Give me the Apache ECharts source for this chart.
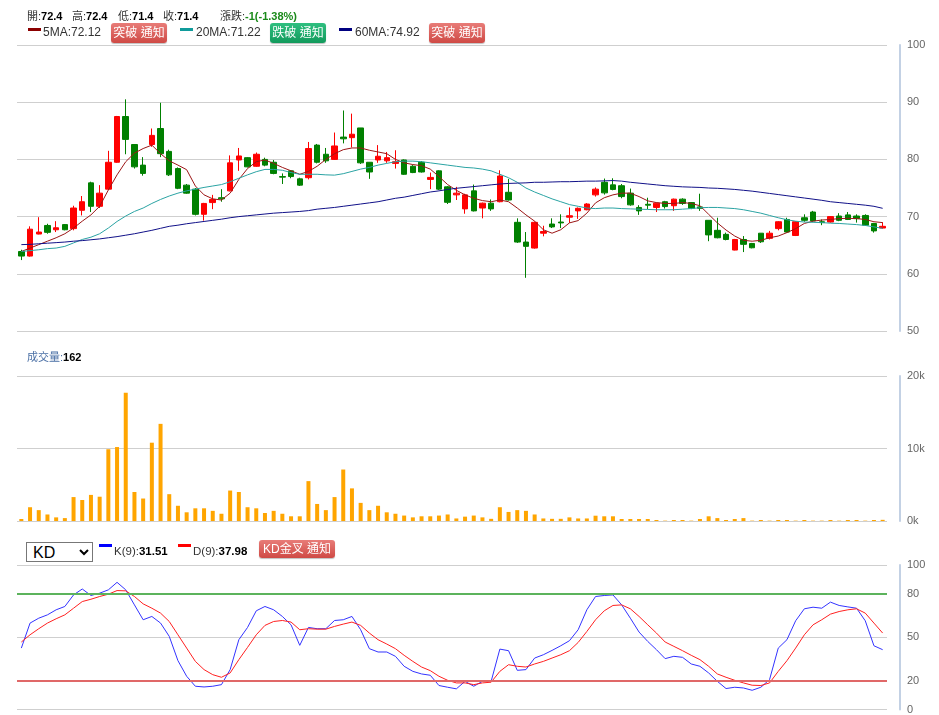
<!DOCTYPE html>
<html>
<head>
<meta charset="utf-8">
<script src="https://cdn.jsdelivr.net/npm/echarts@6/dist/echarts.min.js"></script>
<style>
  body { margin: 0; background: #fff; font-family: Arial, "Liberation Sans", "Noto Sans CJK TC", sans-serif; }
  #wrap { position: relative; width: 939px; height: 715px; }
  #chart { position: absolute; left: 0; top: 0; width: 939px; height: 715px; }
  .t { position: absolute; white-space: nowrap; color: #333; font-size: 11px; line-height: 14px; }
  .t b { color: #000; }
  .sw { position: absolute; width: 13px; height: 3px; }
  .btn { position: absolute; height: 20px; line-height: 20px; border-radius: 3px; color: #fff;
         font-size: 12px; text-align: center; box-shadow: 0 1px 1px rgba(0,0,0,.25); }
  .red { background: linear-gradient(#e87c78, #cf4a45); }
  .green { background: linear-gradient(#2fbf80, #129a5c); }
  select { position: absolute; left: 26px; top: 542px; width: 67px; height: 20px; font-size: 16px;
           border: 1px solid #777; background: #fff; padding: 0 2px; font-family: Arial, sans-serif; }
</style>
</head>
<body>
<div id="wrap">
  <div id="chart"></div>

  <div class="t" style="left:27px;top:9px">開:<b>72.4</b></div>
  <div class="t" style="left:72px;top:9px">高:<b>72.4</b></div>
  <div class="t" style="left:118px;top:9px">低:<b>71.4</b></div>
  <div class="t" style="left:163px;top:9px">收:<b>71.4</b></div>
  <div class="t" style="left:220px;top:9px">漲跌:<b style="color:#1a8a1a">-1(-1.38%)</b></div>

  <div class="sw" style="left:28px;top:28px;background:#8b0000"></div>
  <div class="t" style="left:43px;top:25px;font-size:12px">5MA:72.12</div>
  <div class="btn red" style="left:111px;top:23px;width:56px">突破 通知</div>
  <div class="sw" style="left:180px;top:28px;background:#109b9b"></div>
  <div class="t" style="left:196px;top:25px;font-size:12px">20MA:71.22</div>
  <div class="btn green" style="left:270px;top:23px;width:56px">跌破 通知</div>
  <div class="sw" style="left:339px;top:28px;background:#000080"></div>
  <div class="t" style="left:355px;top:25px;font-size:12px">60MA:74.92</div>
  <div class="btn red" style="left:429px;top:23px;width:56px">突破 通知</div>

  <div class="t" style="left:27px;top:350px"><span style="color:#4a6fa5">成交量:</span><b>162</b></div>

  <select><option>KD</option></select>
  <div class="sw" style="left:99px;top:544px;background:#0000ff"></div>
  <div class="t" style="left:114px;top:544px;font-size:11.5px">K(9):<b>31.51</b></div>
  <div class="sw" style="left:178px;top:544px;background:#ff0000"></div>
  <div class="t" style="left:193px;top:544px;font-size:11.5px">D(9):<b>37.98</b></div>
  <div class="btn red" style="left:259px;top:540px;width:76px;height:18px;line-height:18px">KD金叉 通知</div>
</div>

<script>
// daily prices
const open = [63.9,63.1,66.95,68.45,67.7,68.6,67.9,71.1,75.9,71.8, 74.8,79.5,87.5,82.6,79.0,82.6,85.4,81.4,78.4,75.5,
  74.8,70.4,72.45,73.3,74.5,79.9,80.3,78.8,80.0,79.5, 77.0,78.0,76.6,76.8,82.5,80.9,80.0,83.9,83.8,85.5,
  79.5,79.9,79.75,79.3,79.9,78.8,79.5,76.5,78.0,75.2, 73.8,71.35,74.5,71.5,72.35,72.6,74.25,69.0,65.55,64.5,
  67.1,68.7,69.05,69.9,71.0,71.2,73.8,76.0,75.55,75.4, 74.1,71.6,72.15,71.6,72.6,71.9,73.05,72.45,71.7,69.35,
  67.6,66.9,64.15,66.0,65.3,67.1,66.2,67.9,69.5,66.7, 69.8,70.8,69.1,69.05,70.1,70.3,70.1,70.2,68.8,68.0]
const close = [63.1,67.8,67.3,67.25,68.05,67.7,71.5,72.6,71.8,74.1, 79.5,87.5,83.5,78.7,77.55,84.2,81.0,77.3,74.95,74.1,
  70.4,72.3,73.0,73.1,79.4,80.6,78.7,80.9,79.0,77.55, 76.9,77.0,75.5,81.9,79.5,79.75,82.35,83.6,84.4,79.4,
  77.8,80.55,80.3,79.6,77.4,77.7,77.8,76.85,74.8,72.5, 74.1,73.8,71.0,72.35,71.35,77.1,72.9,65.55,64.8,69.0,
  67.4,68.2,68.9,70.15,71.45,72.2,74.8,74.15,74.75,73.5, 72.05,71.0,72.0,72.35,71.75,73.05,72.3,71.45,71.45,66.8,
  66.3,66.0,66.0,65.15,64.55,65.6,67.1,69.1,67.3,69.1, 69.35,69.25,68.95,70.0,69.35,69.5,69.65,68.5,67.5,68.3]
const high = [64.2,68.3,69.9,68.75,69.2,68.7,71.9,73.6,76.1,75.5, 81.5,87.6,90.5,82.6,80.4,85.4,89.9,81.7,78.6,75.7,
  75.0,72.4,73.8,74.8,80.7,82.0,80.4,81.2,80.3,79.9, 77.55,78.1,76.8,83.05,82.7,82.0,84.7,88.55,88.0,85.5,
  79.5,82.5,81.3,81.6,80.0,79.0,79.7,77.7,78.1,75.35, 75.2,74.0,75.6,72.45,73.0,78.1,76.6,69.7,67.3,69.15,
  68.4,69.7,70.4,71.6,71.6,72.35,75.1,76.65,76.7,75.7, 74.9,72.0,73.3,72.45,72.75,73.15,73.2,72.55,74.0,69.35,
  69.8,67.2,66.1,66.6,65.4,67.1,67.5,69.2,69.8,69.2, 70.4,71.0,69.5,70.1,70.6,70.8,70.4,70.4,68.9,69.0]
const low = [62.4,63.0,66.9,67.0,67.3,67.6,67.6,70.2,70.8,71.5, 74.65,79.4,80.9,78.4,77.15,82.2,80.4,77.1,74.8,74.0,
  70.2,69.3,71.3,72.6,74.4,78.0,78.6,78.7,78.8,77.4, 75.7,76.7,75.35,76.5,79.3,79.4,79.9,82.8,82.1,79.2,
  76.6,79.4,79.4,78.4,77.3,77.6,77.7,74.8,74.65,72.2, 72.9,70.5,70.9,69.7,71.0,72.5,72.8,65.4,59.3,64.4,
  66.55,68.0,68.0,68.9,69.6,71.1,73.5,73.85,74.6,73.2, 71.9,70.3,71.3,70.8,71.4,71.0,72.05,71.3,71.0,65.7,
  66.2,65.85,64.1,63.8,64.45,65.4,66.0,67.6,67.2,66.6, 69.1,69.1,68.5,68.95,69.2,69.4,68.95,68.4,67.2,67.9]

// moving averages as drawn
const ma5 = [63.9,64.5,65.1,65.7,66.3,67.0,68.0,69.2,70.3,71.8, 74.65,77.3,79.6,81.1,81.9,82.5,81.0,79.75,79.0,78.2,
  75.35,73.8,73.1,72.9,74.1,76.5,78.4,79.6,79.9,79.3, 78.6,78.0,77.4,77.9,78.8,80.0,81.0,81.7,82.0,82.0,
  81.6,81.3,81.0,80.0,79.4,79.1,78.9,78.3,77.0,75.6, 74.6,73.8,73.2,72.8,72.6,72.9,72.6,71.5,70.3,69.2,
  67.7,67.1,67.7,68.9,69.3,70.6,72.4,73.3,73.8,74.1, 74.1,73.5,72.75,72.45,72.3,72.3,72.45,72.3,71.9,70.4,
  68.9,67.65,66.6,65.85,65.7,65.85,66.3,66.6,67.2,67.9, 68.8,69.2,69.4,69.5,69.65,69.7,69.65,69.5,69.1,68.95]
const ma20 = [63.9,64.05,64.2,64.4,64.5,64.8,65.4,66.0,66.4,67.0, 68.0,69.15,70.1,70.9,71.5,72.3,73.0,73.6,74.1,74.5,
  74.8,75.1,75.35,75.6,76.1,76.7,77.3,77.85,78.25,78.25, 78.1,77.7,77.4,77.4,77.4,77.3,77.25,77.5,77.9,78.3,
  78.6,79.0,79.3,79.6,79.7,79.7,79.6,79.4,79.2,79.0, 78.8,78.6,78.5,78.3,78.0,77.4,76.8,76.0,75.0,74.3,
  73.7,73.1,72.6,72.1,71.8,71.5,71.4,71.5,71.5,71.4, 71.35,71.3,71.25,71.2,71.2,71.2,71.3,71.4,71.55,71.6,
  71.6,71.5,71.4,71.2,70.9,70.6,70.2,69.8,69.45,69.2, 69.05,69.0,68.95,68.85,68.8,68.7,68.6,68.45,68.2,67.95]
const ma60 = [65.1,65.15,65.25,65.35,65.45,65.55,65.7,65.8,65.95,66.1, 66.3,66.5,66.75,67.0,67.3,67.6,67.95,68.3,68.5,68.75,
  68.95,69.15,69.35,69.55,69.8,70.0,70.15,70.3,70.45,70.6, 70.7,70.8,70.9,71.05,71.3,71.45,71.6,71.8,72.0,72.2,
  72.4,72.6,72.9,73.2,73.4,73.7,74.0,74.3,74.5,74.75, 74.95,75.1,75.25,75.4,75.55,75.7,75.8,75.85,75.9,76.0,
  76.0,76.05,76.1,76.1,76.15,76.2,76.2,76.25,76.3,76.2, 76.0,75.85,75.7,75.55,75.4,75.3,75.2,75.15,75.1,75.0,
  74.95,74.85,74.75,74.6,74.45,74.25,74.05,73.85,73.65,73.45, 73.25,73.05,72.85,72.6,72.45,72.3,72.15,72.0,71.8,71.45]

// volume (shares)
const volume = [280,1900,1500,900,500,400,3300,2900,3600,3350, 9900,10200,17700,4000,3100,10800,13400,3700,2100,1200,
  1750,1750,1400,1000,4200,4000,1900,1750,1100,1400, 1000,650,650,5500,2350,1500,3300,7100,4500,2500,
  1500,2100,1200,1000,750,500,650,650,750,900, 350,600,750,500,300,1900,1250,1500,1400,900,
  350,300,300,500,350,350,730,650,650,280, 280,280,280,140,50,140,140,50,280,650,
  400,140,280,400,50,140,50,140,140,50, 140,50,50,140,50,140,140,50,140,162]

// KD(9)
const kLine = [42.5,59.8,63.2,65.5,69.0,71.3,79.3,83.4,78.9,80.5, 82.8,88.0,82.8,72.4,62.1,64.4,59.8,50.6,33.8,23.0,
  16.1,15.6,16.1,17.2,27.6,48.3,56.8,68.3,71.3,69.0, 64.4,58.6,44.4,56.8,55.9,55.9,61.6,62.1,64.4,55.2,
  42.1,39.8,39.8,36.8,29.9,26.4,24.6,23.7,16.6,15.4, 14.3,19.5,16.1,19.5,19.5,41.8,40.7,27.1,27.6,35.6,
  37.9,40.9,44.1,47.6,55.2,69.0,78.2,78.9,79.3,72.4, 63.2,53.6,47.1,41.4,35.2,36.8,36.1,31.5,29.9,25.3,
  19.5,14.5,15.4,14.9,13.3,15.4,20.7,42.5,48.3,61.4, 69.7,70.8,70.1,74.3,72.0,71.0,70.1,61.4,44.1,41.4]
const dLine = [46.7,51.7,55.9,59.8,62.8,65.5,70.1,74.7,76.3,78.2, 79.8,82.3,82.1,78.2,73.1,70.1,66.7,60.9,51.7,42.5,
  33.3,27.6,24.1,22.3,25.3,34.5,43.0,51.7,58.2,60.9, 61.6,60.5,55.2,55.9,55.6,55.6,57.5,59.1,60.5,58.2,
  52.9,48.3,45.3,42.1,37.5,33.3,29.4,26.9,23.0,20.2, 18.4,18.4,17.2,18.4,18.9,26.4,31.0,29.9,29.4,31.5,
  33.3,35.6,37.9,40.7,46.4,54.0,62.1,68.3,72.0,72.4, 69.7,64.4,58.6,52.9,46.7,43.7,40.7,37.5,34.5,29.9,
  24.6,22.3,20.2,18.4,16.8,16.6,18.4,26.4,33.8,42.5, 51.7,58.6,62.1,66.0,67.8,69.0,69.7,66.7,59.8,52.9]

const kdTicks = [0, 20, 50, 80, 100]

const days = open.map((_, i) => 'D' + (i + 1))
const candles = open.map((o, i) => [o, close[i], low[i], high[i]])

const chart = echarts.init(document.getElementById('chart'))

const yAxisBase = {
  position: 'right',
  offset: 13,
  axisLine: { show: true, lineStyle: { color: '#c3d1e4', width: 2 } },
  axisTick: { show: false },
  axisLabel: { color: '#666', fontSize: 11, fontFamily: 'Arial', margin: 7 },
  splitLine: { lineStyle: { color: '#cfcfcf' } }
}
const xAxisBase = {
  type: 'category',
  data: days,
  boundaryGap: true,
  axisLine: { show: false },
  axisTick: { show: false },
  axisLabel: { show: false },
  splitLine: { show: false }
}
const thin = (color) => ({
  type: 'line', symbol: 'none', smooth: false, silent: true,
  lineStyle: { color: color, width: 1 }
})

const option = {
  animation: false,
  grid: [
    { left: 17, right: 52, top: 45, height: 286 },
    { left: 17, right: 52, top: 376, height: 145 },
    { left: 17, right: 52, top: 565, height: 145 }
  ],
  xAxis: [
    Object.assign({ gridIndex: 0 }, xAxisBase),
    Object.assign({ gridIndex: 1 }, xAxisBase),
    Object.assign({ gridIndex: 2 }, xAxisBase)
  ],
  yAxis: [
    Object.assign({}, yAxisBase, { gridIndex: 0, min: 50, max: 100, interval: 10 }),
    Object.assign({}, yAxisBase, {
      gridIndex: 1, min: 0, max: 20000, interval: 10000,
      axisLabel: Object.assign({}, yAxisBase.axisLabel, { formatter: v => (v / 1000) + 'k' })
    }),
    Object.assign({}, yAxisBase, {
      gridIndex: 2, min: 0, max: 100, interval: 50,
      axisLabel: Object.assign({}, yAxisBase.axisLabel, { customValues: kdTicks })
    })
  ],
  series: [
    {
      type: 'candlestick',
      xAxisIndex: 0, yAxisIndex: 0,
      data: candles,
      barWidth: 6,
      itemStyle: {
        color: '#ff0000', color0: '#008000',
        borderColor: '#ff0000', borderColor0: '#008000', borderWidth: 1
      }
    },
    Object.assign(thin('#9b1515'), { xAxisIndex: 0, yAxisIndex: 0, data: ma5 }),
    Object.assign(thin('#2aa3a3'), { xAxisIndex: 0, yAxisIndex: 0, data: ma20 }),
    Object.assign(thin('#101088'), { xAxisIndex: 0, yAxisIndex: 0, data: ma60 }),
    {
      type: 'bar',
      xAxisIndex: 1, yAxisIndex: 1,
      data: volume,
      barWidth: 4,
      itemStyle: { color: '#ffa500' }
    },
    Object.assign(thin('#3333ff'), {
      xAxisIndex: 2, yAxisIndex: 2, data: kLine,
      markLine: {
        silent: true, symbol: 'none', label: { show: false },
        data: [
          { yAxis: 80, lineStyle: { color: '#5cb35c', width: 2, type: 'solid' } },
          { yAxis: 20, lineStyle: { color: '#e06868', width: 2, type: 'solid' } }
        ]
      }
    }),
    Object.assign(thin('#ff2020'), { xAxisIndex: 2, yAxisIndex: 2, data: dLine })
  ]
}

chart.setOption(option)
</script>
</body>
</html>
